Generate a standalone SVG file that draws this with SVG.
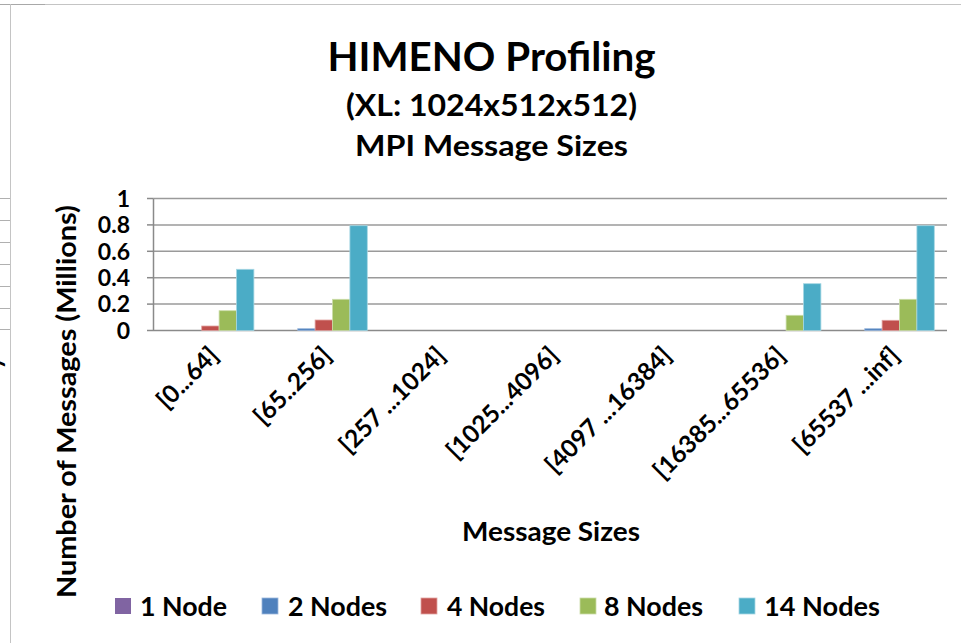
<svg xmlns="http://www.w3.org/2000/svg" width="961" height="643" viewBox="0 0 961 643">
  <style>
    text { font-family: Lato, "Open Sans", "Liberation Sans", sans-serif; font-weight: 700; fill: #000; }
    .grid { stroke: #9a9a9a; stroke-width: 1.5; }
    .axis { stroke: #8a8a8a; stroke-width: 1.5; }
    .edge { stroke: #c4c4c4; stroke-width: 1; }
    .s1 { fill: #8064A2; }
    .s2 { fill: #4F81BD; stroke: #9bb7dc; stroke-width: 0.8; }
    .s4 { fill: #C0504D; stroke: #e0a3a1; stroke-width: 0.8; }
    .s8 { fill: #9BBB59; stroke: #cbdca8; stroke-width: 0.8; }
    .s14 { fill: #4BACC6; stroke: #a5d6e3; stroke-width: 0.8; }
    .tick { font-size: 23px; text-anchor: end; }
    .cat { font-size: 24.5px; text-anchor: end; }
    .leg { font-size: 26px; }
  </style>
  <rect width="961" height="643" fill="#ffffff"/>

  <!-- frame pieces along the edges -->
  <g id="frame">
    <line class="edge" x1="0" y1="4.5" x2="961" y2="4.5"/>
    <line x1="0" y1="4.5" x2="45" y2="4.5" stroke="#a8a8a8" stroke-width="1"/>
    <line class="edge" x1="10.5" y1="4" x2="10.5" y2="643"/>
    <g stroke="#b0b0b0" stroke-width="1">
      <line x1="0" y1="198.5" x2="10" y2="198.5"/>
      <line x1="0" y1="220.5" x2="10" y2="220.5"/>
      <line x1="0" y1="242.5" x2="10" y2="242.5"/>
      <line x1="0" y1="264.5" x2="10" y2="264.5"/>
      <line x1="0" y1="286.5" x2="10" y2="286.5"/>
      <line x1="0" y1="308.5" x2="10" y2="308.5"/>
      <line x1="0" y1="329.5" x2="10" y2="329.5"/>
    </g>
    <text transform="translate(1,363) rotate(-90)" font-size="24" text-anchor="middle">y</text>
  </g>

  <!-- titles -->
  <g id="title">
    <text x="491.5" y="71" font-size="41" text-anchor="middle" textLength="328" lengthAdjust="spacingAndGlyphs">HIMENO Profiling</text>
    <text x="491.5" y="116" font-size="30" text-anchor="middle" textLength="291" lengthAdjust="spacingAndGlyphs">(XL: 1024x512x512)</text>
    <text x="491.5" y="156" font-size="29" text-anchor="middle" textLength="273" lengthAdjust="spacingAndGlyphs">MPI Message Sizes</text>
  </g>

  <!-- value axis with gridlines -->
  <g id="value-axis">
    <line class="grid" x1="153.5" y1="198.5" x2="947" y2="198.5"/>
    <line class="grid" x1="153.5" y1="224.9" x2="947" y2="224.9"/>
    <line class="grid" x1="153.5" y1="251.3" x2="947" y2="251.3"/>
    <line class="grid" x1="153.5" y1="277.7" x2="947" y2="277.7"/>
    <line class="grid" x1="153.5" y1="304.1" x2="947" y2="304.1"/>
    <g class="axis">
      <line x1="153.5" y1="198.5" x2="153.5" y2="330.5"/>
      <line x1="147" y1="198.5" x2="153.5" y2="198.5"/>
      <line x1="147" y1="224.9" x2="153.5" y2="224.9"/>
      <line x1="147" y1="251.3" x2="153.5" y2="251.3"/>
      <line x1="147" y1="277.7" x2="153.5" y2="277.7"/>
      <line x1="147" y1="304.1" x2="153.5" y2="304.1"/>
      <line x1="147" y1="330.5" x2="947" y2="330.5"/>
    </g>
    <text class="tick" x="130" y="206.8">1</text>
    <text class="tick" x="130" y="233.2">0.8</text>
    <text class="tick" x="130" y="259.6">0.6</text>
    <text class="tick" x="130" y="286">0.4</text>
    <text class="tick" x="130" y="312.4">0.2</text>
    <text class="tick" x="130" y="338.8">0</text>
    <text transform="translate(76,401.5) rotate(-90)" font-size="27" text-anchor="middle" textLength="393" lengthAdjust="spacingAndGlyphs">Number of Messages (Millions)</text>
  </g>

  <!-- bars, one group per series -->
  <g id="series-2-nodes" class="s2">
    <rect x="297.7" y="328.7" width="17.4" height="1.8"/>
    <rect x="864.7" y="328.7" width="17.4" height="1.8"/>
  </g>
  <g id="series-4-nodes" class="s4">
    <rect x="201.7" y="326" width="17.4" height="4.5"/>
    <rect x="315.1" y="320" width="17.4" height="10.5"/>
    <rect x="882.1" y="320.3" width="17.4" height="10.2"/>
  </g>
  <g id="series-8-nodes" class="s8">
    <rect x="219.1" y="310.7" width="17.4" height="19.8"/>
    <rect x="332.5" y="299.3" width="17.4" height="31.2"/>
    <rect x="786.1" y="315.3" width="17.4" height="15.2"/>
    <rect x="899.5" y="299.3" width="17.4" height="31.2"/>
  </g>
  <g id="series-14-nodes" class="s14">
    <rect x="236.5" y="269.3" width="17.4" height="61.2"/>
    <rect x="349.9" y="225.7" width="17.4" height="104.8"/>
    <rect x="803.5" y="283.7" width="17.4" height="46.8"/>
    <rect x="916.9" y="225.7" width="17.4" height="104.8"/>
  </g>

  <!-- category axis labels -->
  <g id="category-axis">
    <text class="cat" transform="translate(220,357) rotate(-45)">[0...64]</text>
    <text class="cat" transform="translate(333,357) rotate(-45)">[65..256]</text>
    <text class="cat" transform="translate(447,357) rotate(-45)">[257 ...1024]</text>
    <text class="cat" transform="translate(560,357) rotate(-45)">[1025...4096]</text>
    <text class="cat" transform="translate(673,357) rotate(-45)">[4097 ...16384]</text>
    <text class="cat" transform="translate(787,357) rotate(-45)">[16385...65536]</text>
    <text class="cat" transform="translate(901,357) rotate(-45)">[65537 ...inf]</text>
    <text x="551" y="541" font-size="27" text-anchor="middle" textLength="178" lengthAdjust="spacingAndGlyphs">Message Sizes</text>
  </g>

  <!-- legend -->
  <g id="legend">
    <rect class="s1" x="115" y="598" width="16" height="16"/>
    <text class="leg" x="140" y="616" textLength="87" lengthAdjust="spacingAndGlyphs">1 Node</text>
    <rect class="s2" x="262" y="598" width="16" height="16"/>
    <text class="leg" x="288" y="616" textLength="99" lengthAdjust="spacingAndGlyphs">2 Nodes</text>
    <rect class="s4" x="421" y="598" width="16" height="16"/>
    <text class="leg" x="447" y="616" textLength="98" lengthAdjust="spacingAndGlyphs">4 Nodes</text>
    <rect class="s8" x="580" y="598" width="16" height="16"/>
    <text class="leg" x="604" y="616" textLength="99" lengthAdjust="spacingAndGlyphs">8 Nodes</text>
    <rect class="s14" x="739" y="598" width="16" height="16"/>
    <text class="leg" x="764" y="616" textLength="116" lengthAdjust="spacingAndGlyphs">14 Nodes</text>
  </g>
</svg>
